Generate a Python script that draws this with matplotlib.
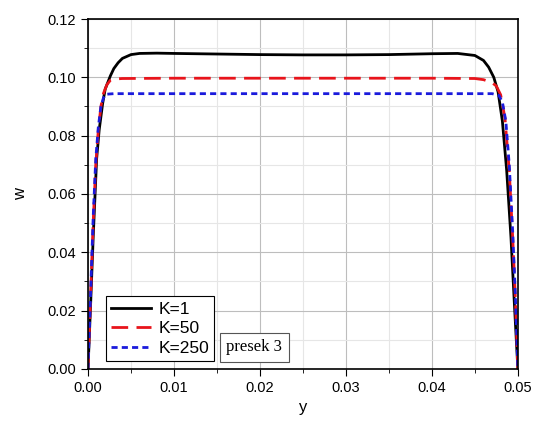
import matplotlib.pyplot as plt
from matplotlib.ticker import MultipleLocator

plt.rcParams['font.family'] = ['Liberation Sans', 'DejaVu Sans']

# values
y1 = [0.0, 0.0003, 0.0006, 0.001, 0.0013, 0.0017, 0.002, 0.0026, 0.003, 0.0035, 0.004, 0.005,
      0.006, 0.008, 0.01, 0.015, 0.02, 0.025, 0.03, 0.035, 0.04, 0.043, 0.045, 0.046,
      0.0466, 0.0472, 0.0477, 0.0482, 0.0487, 0.0492, 0.0496, 0.05]
w1 = [0.0, 0.022, 0.045, 0.072, 0.082, 0.091, 0.096, 0.1005, 0.103, 0.105, 0.1065, 0.1078,
      0.1082, 0.1083, 0.1082, 0.108, 0.1078, 0.1077, 0.1077, 0.1078, 0.1081, 0.1082, 0.1075, 0.1058,
      0.1035, 0.1, 0.095, 0.085, 0.068, 0.045, 0.022, 0.0]

y50 = [0.0, 0.0003, 0.0006, 0.0009, 0.0012, 0.0015, 0.0018, 0.0022, 0.0026, 0.003, 0.004,
       0.01, 0.02, 0.03, 0.04, 0.045, 0.046, 0.047, 0.0475, 0.048, 0.0485, 0.049, 0.0494,
       0.0497, 0.05]
w50 = [0.0, 0.025, 0.05, 0.07, 0.082, 0.09, 0.0945, 0.0975, 0.099, 0.0994, 0.0996,
       0.0997, 0.0997, 0.0997, 0.0997, 0.0996, 0.0992, 0.0982, 0.097, 0.094, 0.086, 0.068, 0.045,
       0.025, 0.0]

y250 = [0.0, 0.0003, 0.0006, 0.0009, 0.0012, 0.0015, 0.0018, 0.0021, 0.003, 0.01, 0.02,
        0.03, 0.04, 0.047, 0.0478, 0.0482, 0.0486, 0.049, 0.0494, 0.0497, 0.05]
w250 = [0.0, 0.026, 0.052, 0.072, 0.083, 0.09, 0.093, 0.0942, 0.0944, 0.0944, 0.0944,
        0.0944, 0.0944, 0.0944, 0.0938, 0.0915, 0.085, 0.07, 0.047, 0.026, 0.0]

fig = plt.figure(figsize=(5.4, 4.23), dpi=100)
ax = fig.add_axes([0.163, 0.128, 0.796, 0.827])

ax.plot(y1, w1, color='black', lw=2, label='K=1')
ax.plot(y50, w50, color='#e8141b', lw=2, ls=(0, (6, 3)), label='K=50')
ax.plot(y250, w250, color='#1a1adc', lw=2, ls=(0, (2.2, 1.5)), label='K=250')

ax.set_xlim(0, 0.05)
ax.set_ylim(0, 0.12)
ax.xaxis.set_major_locator(MultipleLocator(0.01))
ax.xaxis.set_minor_locator(MultipleLocator(0.005))
ax.yaxis.set_major_locator(MultipleLocator(0.02))
ax.yaxis.set_minor_locator(MultipleLocator(0.01))
ax.xaxis.set_major_formatter(plt.FormatStrFormatter('%.2f'))
ax.yaxis.set_major_formatter(plt.FormatStrFormatter('%.2f'))
ax.grid(which='major', color='#bdbdbd', lw=0.8)
ax.grid(which='minor', color='#e6e6e6', lw=0.8)
ax.set_axisbelow(True)
ax.tick_params(which='major', length=5, labelsize=10.5)
ax.tick_params(which='minor', length=3)
for s in ax.spines.values():
    s.set_linewidth(1.2)
ax.set_xlabel('y', fontsize=12)
ax.set_ylabel('w', fontsize=12, labelpad=14)

leg = ax.legend(loc='lower left', bbox_to_anchor=(0.042, 0.023), borderaxespad=0,
                fontsize=12.5, fancybox=False, edgecolor='black', framealpha=1,
                handlelength=2.3, borderpad=0.3, labelspacing=0.25, handletextpad=0.4)
leg.get_frame().set_linewidth(0.8)

ax.text(0.322, 0.05, 'presek 3', transform=ax.transAxes, fontsize=12,
        family='Liberation Serif',
        bbox=dict(boxstyle='square,pad=0.4', fc='white', ec='#555555', lw=0.8))

fig.savefig('out.png', dpi=100)
